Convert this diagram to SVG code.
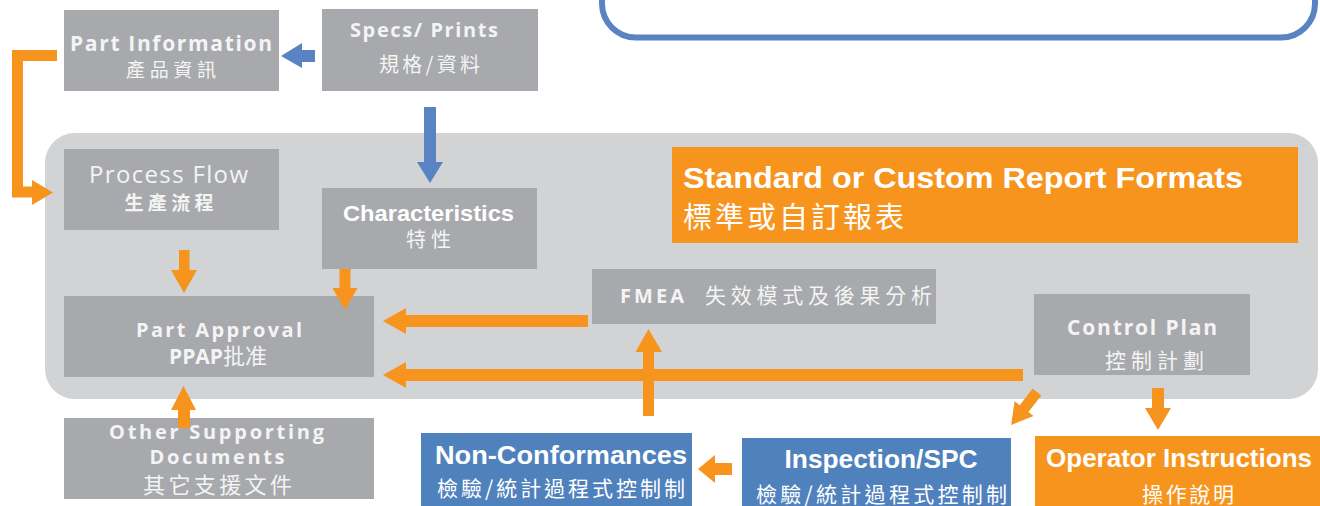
<svg xmlns="http://www.w3.org/2000/svg" width="1320" height="506" viewBox="0 0 1320 506">
  <style>
    .box { fill: #a7a9ac; }
    .blue { fill: #4f81bd; }
    .orange { fill: #f7941e; }
    .arrO { fill: #f7941e; }
    .arrB { fill: #5a83c3; }
    .gs { font-family: "Open Sans", "Noto Sans", sans-serif; fill: #f4f4f4; }
    .cg { font-family: "Liberation Sans", "DejaVu Sans", sans-serif; font-weight: bold; fill: #ffffff; }
    .cjk { font-family: "Noto Sans CJK TC", "Noto Sans CJK SC", sans-serif; fill: #f4f4f4; }
    .w { fill: #ffffff; }
    .b { font-weight: bold; }
  </style>

  <!-- white backdrop -->
  <rect x="0" y="0" width="1320" height="506" fill="#ffffff"/>

  <!-- blue outlined panel at the top right -->
  <rect x="602" y="-60" width="713" height="97.5" rx="34" fill="none" stroke="#5a83c3" stroke-width="6"/>

  <!-- grey process panel -->
  <rect x="45" y="133" width="1273" height="266" rx="30" fill="#d1d3d4"/>

  <g id="part-information">
    <rect class="box" x="64" y="10" width="215" height="81"/>
    <text class="gs b" x="171" y="51" font-size="21" text-anchor="middle" textLength="202" lengthAdjust="spacing">Part Information</text>
    <text class="cjk" x="171" y="77" font-size="19" text-anchor="middle" textLength="90" lengthAdjust="spacing">產品資訊</text>
  </g>

  <g id="specs-prints">
    <rect class="box" x="322" y="9" width="216" height="82"/>
    <text class="gs b" x="424" y="37" font-size="20" text-anchor="middle" textLength="148" lengthAdjust="spacing">Specs/ Prints</text>
    <text class="cjk" x="429.5" y="72" font-size="20" text-anchor="middle" textLength="101" lengthAdjust="spacing">規格/資料</text>
  </g>

  <g id="process-flow">
    <rect class="box" x="64" y="149" width="215" height="81"/>
    <text class="gs" x="168.5" y="183" font-size="24" text-anchor="middle" textLength="159" lengthAdjust="spacing">Process Flow</text>
    <text class="cjk b" x="169" y="210" font-size="19" text-anchor="middle" textLength="89" lengthAdjust="spacing">生產流程</text>
  </g>

  <g id="characteristics">
    <rect class="box" x="322" y="188" width="215" height="81"/>
    <text class="cg" x="428.5" y="221" font-size="22" text-anchor="middle" textLength="171" lengthAdjust="spacingAndGlyphs">Characteristics</text>
    <text class="cjk" x="428.5" y="247" font-size="20" text-anchor="middle" textLength="45" lengthAdjust="spacing">特性</text>
  </g>

  <g id="part-approval">
    <rect class="box" x="64" y="296" width="310" height="81"/>
    <text class="gs b" x="219" y="337" font-size="20" text-anchor="middle" textLength="166" lengthAdjust="spacing">Part Approval</text>
    <text x="218" y="364" text-anchor="middle">
      <tspan class="gs b" font-size="21">PPAP</tspan><tspan class="cjk" font-size="22">批准</tspan>
    </text>
  </g>

  <g id="fmea">
    <rect class="box" x="592" y="269" width="344" height="55"/>
    <text class="gs b" x="620" y="303" font-size="20" textLength="64" lengthAdjust="spacing">FMEA</text>
    <text class="cjk" x="705" y="303" font-size="21" textLength="227" lengthAdjust="spacing">失效模式及後果分析</text>
  </g>

  <g id="control-plan">
    <rect class="box" x="1034" y="294" width="216" height="81"/>
    <text class="gs b" x="1142" y="335" font-size="21" text-anchor="middle" textLength="150" lengthAdjust="spacing">Control Plan</text>
    <text class="cjk" x="1154.5" y="368" font-size="21" text-anchor="middle" textLength="99" lengthAdjust="spacing">控制計劃</text>
  </g>

  <g id="report-formats">
    <rect class="orange" x="672" y="147" width="626" height="96"/>
    <text class="cg" x="683" y="188" font-size="30" textLength="560" lengthAdjust="spacingAndGlyphs">Standard or Custom Report Formats</text>
    <text class="cjk w" x="683" y="228" font-size="29" textLength="221" lengthAdjust="spacing">標準或自訂報表</text>
  </g>

  <g id="other-documents">
    <rect class="box" x="64" y="418" width="310" height="81"/>
    <text class="gs b" x="216.5" y="439" font-size="20" text-anchor="middle" textLength="215" lengthAdjust="spacing">Other Supporting</text>
    <text class="gs b" x="217" y="464" font-size="20" text-anchor="middle" textLength="135" lengthAdjust="spacing">Documents</text>
    <text class="cjk" x="217.5" y="493" font-size="22" text-anchor="middle" textLength="149" lengthAdjust="spacing">其它支援文件</text>
  </g>

  <g id="non-conformances">
    <rect class="blue" x="421" y="433" width="271" height="80"/>
    <text class="cg" x="561" y="464" font-size="25" text-anchor="middle" textLength="252" lengthAdjust="spacingAndGlyphs">Non-Conformances</text>
    <text class="cjk w" x="561" y="496" font-size="21" text-anchor="middle" textLength="248" lengthAdjust="spacing">檢驗/統計過程式控制制</text>
  </g>

  <g id="inspection-spc">
    <rect class="blue" x="742" y="438" width="269" height="75"/>
    <text class="cg" x="881" y="468" font-size="25" text-anchor="middle" textLength="193" lengthAdjust="spacingAndGlyphs">Inspection/SPC</text>
    <text class="cjk w" x="881.5" y="502" font-size="21" text-anchor="middle" textLength="251" lengthAdjust="spacing">檢驗/統計過程式控制制</text>
  </g>

  <g id="operator-instructions">
    <rect class="orange" x="1035" y="436" width="290" height="80"/>
    <text class="cg" x="1179" y="467" font-size="25" text-anchor="middle" textLength="266" lengthAdjust="spacingAndGlyphs">Operator Instructions</text>
    <text class="cjk w" x="1188" y="502" font-size="21" text-anchor="middle" textLength="92" lengthAdjust="spacing">操作說明</text>
  </g>

  <!-- connectors, drawn last so heads and tails sit over the boxes -->
  <g id="connectors">
    <!-- Specs to Part Information -->
    <polygon class="arrB" points="315,50 302,50 302,43 281,56 302,68 302,62 315,62"/>
    <!-- Specs down to Characteristics -->
    <polygon class="arrB" points="424,107 436,107 436,162 443,162 430,183 417,162 424,162"/>
    <!-- Part Information bracket to Process Flow -->
    <polyline points="57,55.5 17.5,55.5 17.5,192 33,192" fill="none" stroke="#f7941e" stroke-width="11"/>
    <polygon class="arrO" points="32,180 53,192.5 32,205"/>
    <!-- Process Flow down to Part Approval -->
    <polygon class="arrO" points="179,250 189.5,250 189.5,270 197,270 184,293 171,270 179,270"/>
    <!-- Characteristics down to Part Approval -->
    <polygon class="arrO" points="339.5,269 350.5,269 350.5,288 357.5,288 345,310 332.5,288 339.5,288"/>
    <!-- FMEA to Part Approval -->
    <polygon class="arrO" points="588,315 406,315 406,308 383,321 406,334 406,327 588,327"/>
    <!-- Control Plan to Part Approval -->
    <polygon class="arrO" points="1023,369 406,369 406,362 383,375 406,388 406,381 1023,381"/>
    <!-- Non-Conformances up to FMEA -->
    <polygon class="arrO" points="643,416 654,416 654,352 662,352 648.5,329 635.5,352 643,352"/>
    <!-- Other Supporting Documents up to Part Approval -->
    <polygon class="arrO" points="178,428 190,428 190,410 196,410 183.5,386 171,410 178,410"/>
    <!-- Control Plan down to Operator Instructions -->
    <polygon class="arrO" points="1152,388 1164,388 1164,408 1171,408 1158,430 1145,408 1152,408"/>
    <!-- Control Plan to Inspection/SPC -->
    <polygon class="arrO" transform="translate(1037,392) rotate(38)" points="-5.5,0 5.5,0 5.5,21 12,21 0,42 -12,21 -5.5,21"/>
    <!-- Inspection/SPC to Non-Conformances -->
    <polygon class="arrO" points="732,463 715,463 715,455 698,469 715,483 715,475 732,475"/>
  </g>
</svg>
